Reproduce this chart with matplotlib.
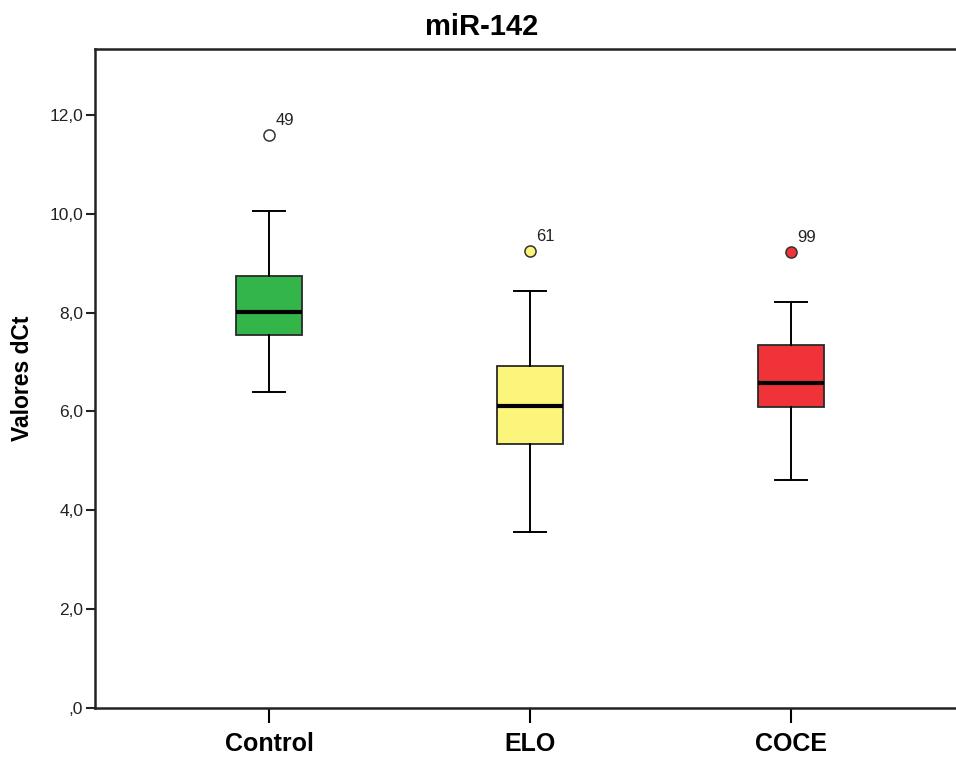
import matplotlib
matplotlib.use("Agg")
import matplotlib.pyplot as plt
from matplotlib.ticker import FuncFormatter

# Box-plot summary statistics for miR-142 dCt values per group
groups = ["Control", "ELO", "COCE"]
whisker_low = [6.40, 3.55, 4.61]
q1 = [7.54, 5.34, 6.09]
median = [8.01, 6.11, 6.58]
q3 = [8.74, 6.92, 7.34]
whisker_high = [10.06, 8.44, 8.21]
outlier_values = [11.59, 9.24, 9.23]
outlier_ids = ["49", "61", "99"]

box_colors = ["#33b54a", "#fbf67b", "#ef3339"]
outlier_faces = ["white", "#fbf67b", "#ef3339"]

plt.rcParams["font.family"] = ["Liberation Sans", "DejaVu Sans"]

fig = plt.figure(figsize=(9.56, 7.6), dpi=100)
ax = fig.add_axes([95 / 956, 52 / 760, 870 / 956, 659 / 760])

stats = []
for i, g in enumerate(groups):
    stats.append(dict(label=g, whislo=whisker_low[i], q1=q1[i], med=median[i],
                      q3=q3[i], whishi=whisker_high[i], fliers=[]))

positions = [1, 2, 3]
bp = ax.bxp(stats, positions=positions, widths=0.253, patch_artist=True,
            showfliers=False,
            boxprops=dict(edgecolor="#2a2a2a", linewidth=1.3),
            medianprops=dict(color="black", linewidth=3.0),
            whiskerprops=dict(color="black", linewidth=1.4),
            capprops=dict(color="black", linewidth=1.4),
            capwidths=0.126)
for patch, c in zip(bp["boxes"], box_colors):
    patch.set_facecolor(c)

# Outliers with case labels
for x, v, lab, fc in zip(positions, outlier_values, outlier_ids, outlier_faces):
    ax.plot([x], [v], marker="o", markersize=8, markerfacecolor=fc,
            markeredgecolor="#333333", markeredgewidth=1.1, linestyle="none",
            zorder=5)
    ax.annotate(lab, (x, v), xytext=(4.5, 7), textcoords="offset points",
                ha="left", va="baseline", fontsize=12, color="#222222")

ax.set_xlim(0.333, 3.667)
ax.set_ylim(0, 13.33)
ax.set_yticks([0, 2, 4, 6, 8, 10, 12])


def comma_fmt(v, pos):
    s = f"{v:.1f}".replace(".", ",")
    if s.startswith("0,"):
        s = s[1:]
    return s


ax.yaxis.set_major_formatter(FuncFormatter(comma_fmt))
ax.set_xticks(positions)
ax.set_xticklabels(groups, fontsize=18, fontweight="bold")
ax.tick_params(axis="y", labelsize=12.5, length=6.5, width=1.5, pad=2,
               colors="#222222")
ax.tick_params(axis="x", length=11, width=1.5, pad=6.5)

for side in ["left", "bottom", "top"]:
    ax.spines[side].set_linewidth(1.8)
    ax.spines[side].set_color("#222222")
ax.spines["right"].set_visible(False)

fig.text(482 / 956, 1 - 35 / 760, "miR-142", ha="center", va="baseline",
         fontsize=21, fontweight="bold")
fig.text(23 / 956, 1 - 378 / 760, "Valores dCt", ha="center", va="center",
         rotation=90, fontsize=16.5, fontweight="bold")

fig.savefig("out.png", dpi=100)
